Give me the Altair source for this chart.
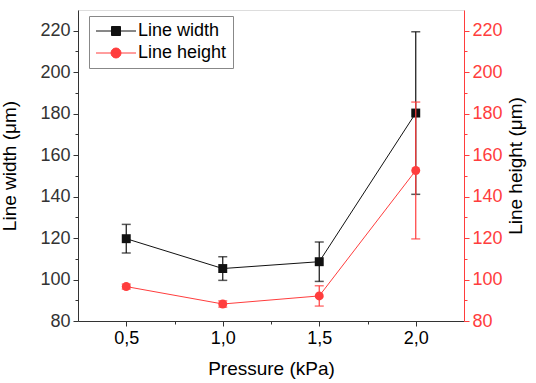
import altair as alt
import pandas as pd

# ---- data ----
pressure = [0.5, 1.0, 1.5, 2.0]
width_mean = [119.7, 105.3, 108.6, 180.3]
width_err = [6.9, 5.7, 9.5, 39.2]
height_mean = [96.6, 88.2, 92.1, 152.6]
height_err = [1.2, 1.5, 4.9, 33.0]
series_names = ["Line width", "Line height"]
x_ticks = [0.5, 0.75, 1.0, 1.25, 1.5, 1.75, 2.0]
y_ticks = [80, 90, 100, 110, 120, 130, 140, 150, 160, 170, 180, 190, 200, 210, 220]

BLACK = "#111111"
RED = "#ff3d3d"
AX = "#333333"
FONT = "Liberation Sans"
LBL = 18
TTL = 19

wdf = pd.DataFrame({"p": pressure, "v": width_mean,
                    "lo": [m - e for m, e in zip(width_mean, width_err)],
                    "hi": [m + e for m, e in zip(width_mean, width_err)]})
hdf = pd.DataFrame({"p": pressure, "v": height_mean,
                    "lo": [m - e for m, e in zip(height_mean, height_err)],
                    "hi": [m + e for m, e in zip(height_mean, height_err)]})
legdf = pd.DataFrame({"series": series_names})

xscale = alt.Scale(domain=[0.25, 2.25], nice=False, zero=False)
yscale = alt.Scale(domain=[80, 230], nice=False, zero=False)

x_axis = alt.Axis(
    values=x_ticks, grid=False, title="Pressure (kPa)",
    labelExpr="(datum.value*2) % 1 === 0 ? replace(format(datum.value, '.1f'), '.', ',') : ''",
    tickSize={"condition": {"test": "(datum.value*2) % 1 !== 0", "value": 3}, "value": 5},
    domainColor=AX, tickColor=AX, labelColor="black", titleColor="black",
    labelFontSize=LBL, titleFontSize=TTL, labelPadding=3, titlePadding=12,
    labelFont=FONT, titleFont=FONT, titleFontWeight="normal",
)

def y_axis(orient, color, title, baseline, pad):
    return alt.Axis(
        orient=orient, values=y_ticks, grid=False, title=title,
        titleAngle=270, titleBaseline=baseline,
        labelExpr="datum.value % 20 === 0 ? datum.value : ''",
        tickSize={"condition": {"test": "datum.value % 20 !== 0", "value": 3}, "value": 5},
        domainColor=color, tickColor=color, labelColor=color, titleColor="black",
        labelFontSize=LBL, titleFontSize=TTL, labelPadding=3, titlePadding=pad,
        labelFont=FONT, titleFont=FONT, titleFontWeight="normal",
    )

def series_layer(df, color, shape, axis):
    base = alt.Chart(df).encode(x=alt.X("p:Q", scale=xscale, axis=x_axis))
    y = alt.Y("v:Q", scale=yscale, axis=axis)
    err = base.mark_rule(color=color, strokeWidth=1.2).encode(
        y=alt.Y("lo:Q", scale=yscale, axis=axis), y2="hi:Q")
    cap_lo = base.mark_tick(color=color, orient="horizontal", size=9, thickness=1.5).encode(
        y=alt.Y("lo:Q", scale=yscale, axis=axis))
    cap_hi = base.mark_tick(color=color, orient="horizontal", size=9, thickness=1.5).encode(
        y=alt.Y("hi:Q", scale=yscale, axis=axis))
    line = base.mark_line(color=color, strokeWidth=1).encode(y=y)
    pts = base.mark_point(filled=True, shape=shape, color=color, size=80, opacity=1).encode(y=y)
    return alt.layer(line, err, cap_lo, cap_hi, pts)

w_layer = series_layer(wdf, BLACK, "square", y_axis("left", AX, "Line width (\u03bcm)", "bottom", 20))
h_layer = series_layer(hdf, RED, "circle", y_axis("right", RED, "Line height (\u03bcm)", "top", 4))

sym_w = "M-4,0H4M-0.9,-0.9H0.9V0.9H-0.9Z"
sym_h = "M-4,0H4M1,0A1,1,0,1,1,-1,0A1,1,0,1,1,1,0Z"

legend = alt.Legend(
    title=None, orient="none", legendX=11, legendY=6,
    padding=6, strokeColor="#888888", fillColor="white",
    labelFontSize=18, labelFont=FONT, labelColor="black",
    symbolSize=100, symbolStrokeWidth=1, symbolOffset=12, labelOffset=13,
    symbolOpacity=1, rowPadding=4,
)
leg_layer = alt.Chart(legdf).transform_filter("false").mark_point(filled=True, size=100, opacity=1).encode(
    color=alt.Color("series:N", scale=alt.Scale(domain=series_names, range=[BLACK, RED]), legend=legend),
    stroke=alt.Stroke("series:N", scale=alt.Scale(domain=series_names, range=[BLACK, RED]), legend=legend),
    shape=alt.Shape("series:N", scale=alt.Scale(domain=series_names, range=[sym_w, sym_h]), legend=legend),
)

chart = alt.layer(alt.layer(w_layer, leg_layer), h_layer).resolve_scale(y="independent").properties(
    width=386, height=311,
    autosize=alt.AutoSizeParams(type="none"),
    padding={"left": 78, "top": 10, "right": 72, "bottom": 62},
).configure_view(stroke=AX, strokeWidth=1).configure(background="white")

chart.save("out.html", embed_options={"renderer": "svg", "actions": False})
